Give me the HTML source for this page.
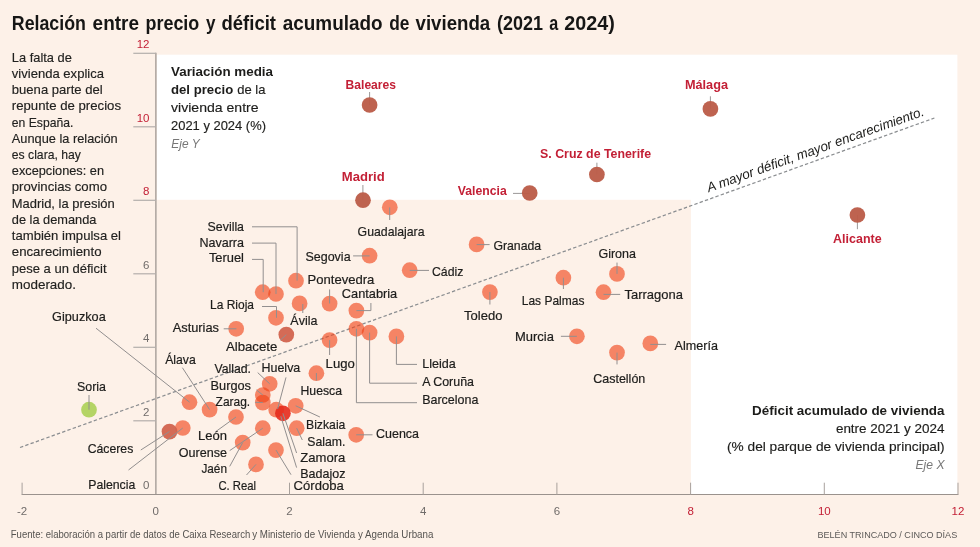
<!DOCTYPE html>
<html lang="es"><head><meta charset="utf-8"><title>Relación entre precio y déficit acumulado de vivienda</title>
<style>
html,body{margin:0;padding:0;background:#fdf1e8;}
svg{display:block;font-family:"Liberation Sans",sans-serif;}
.l{fill:#1d1d1b;font-size:13px;stroke:#1d1d1b;stroke-width:.2px;}
.r{fill:#c32036;font-size:12.4px;font-weight:bold;}
.ln{stroke:#928f8f;stroke-width:1;fill:none;}
.ax{stroke:#9a928d;stroke-width:1.25;fill:none;}
.tk{stroke:#a39c98;stroke-width:.95;fill:none;}
.p{fill:#f03e12;fill-opacity:0.61;}
.d{fill:#bb5d49;fill-opacity:.96;}
</style></head><body>
<svg width="980" height="547" viewBox="0 0 980 547">
<rect x="0" y="0" width="980" height="547" fill="#fdf1e8"/>
<rect x="156.6" y="54.7" width="800.8" height="439.8" fill="#ffffff"/>
<rect x="156.5" y="199.8" width="534.4" height="294.7" fill="#fdf1e8"/>
<text y="30.3" style="font-size:19.8px;font-weight:bold;fill:#161615"><tspan x="11.8" textLength="74.1" lengthAdjust="spacingAndGlyphs">Relación</tspan> <tspan x="92.6" textLength="46.4" lengthAdjust="spacingAndGlyphs">entre</tspan> <tspan x="145.5" textLength="53.8" lengthAdjust="spacingAndGlyphs">precio</tspan> <tspan x="206.0" textLength="9.5" lengthAdjust="spacingAndGlyphs">y</tspan> <tspan x="221.5" textLength="54.5" lengthAdjust="spacingAndGlyphs">déficit</tspan> <tspan x="282.8" textLength="99.7" lengthAdjust="spacingAndGlyphs">acumulado</tspan> <tspan x="389.2" textLength="20.2" lengthAdjust="spacingAndGlyphs">de</tspan> <tspan x="415.5" textLength="74.7" lengthAdjust="spacingAndGlyphs">vivienda</tspan> <tspan x="497.0" textLength="46.0" lengthAdjust="spacingAndGlyphs">(2021</tspan> <tspan x="549.2" textLength="9.0" lengthAdjust="spacingAndGlyphs">a</tspan> <tspan x="564.3" textLength="50.5" lengthAdjust="spacingAndGlyphs">2024)</tspan></text>
<text style="font-size:13.2px;fill:#222220;stroke:#222220;stroke-width:.15px" x="11.8" y="61.6" textLength="60.1" lengthAdjust="spacingAndGlyphs">La falta de</text>
<text style="font-size:13.2px;fill:#222220;stroke:#222220;stroke-width:.15px" x="11.8" y="77.8" textLength="92.2" lengthAdjust="spacingAndGlyphs">vivienda explica</text>
<text style="font-size:13.2px;fill:#222220;stroke:#222220;stroke-width:.15px" x="11.8" y="94.0" textLength="90.9" lengthAdjust="spacingAndGlyphs">buena parte del</text>
<text style="font-size:13.2px;fill:#222220;stroke:#222220;stroke-width:.15px" x="11.8" y="110.3" textLength="109.2" lengthAdjust="spacingAndGlyphs">repunte de precios</text>
<text style="font-size:13.2px;fill:#222220;stroke:#222220;stroke-width:.15px" x="11.8" y="126.5" textLength="61.6" lengthAdjust="spacingAndGlyphs">en España.</text>
<text style="font-size:13.2px;fill:#222220;stroke:#222220;stroke-width:.15px" x="11.8" y="142.7" textLength="105.9" lengthAdjust="spacingAndGlyphs">Aunque la relación</text>
<text style="font-size:13.2px;fill:#222220;stroke:#222220;stroke-width:.15px" x="11.8" y="158.9" textLength="69.1" lengthAdjust="spacingAndGlyphs">es clara, hay</text>
<text style="font-size:13.2px;fill:#222220;stroke:#222220;stroke-width:.15px" x="11.8" y="175.1" textLength="92.2" lengthAdjust="spacingAndGlyphs">excepciones: en</text>
<text style="font-size:13.2px;fill:#222220;stroke:#222220;stroke-width:.15px" x="11.8" y="191.4" textLength="95.2" lengthAdjust="spacingAndGlyphs">provincias como</text>
<text style="font-size:13.2px;fill:#222220;stroke:#222220;stroke-width:.15px" x="11.8" y="207.6" textLength="102.9" lengthAdjust="spacingAndGlyphs">Madrid, la presión</text>
<text style="font-size:13.2px;fill:#222220;stroke:#222220;stroke-width:.15px" x="11.8" y="223.8" textLength="84.6" lengthAdjust="spacingAndGlyphs">de la demanda</text>
<text style="font-size:13.2px;fill:#222220;stroke:#222220;stroke-width:.15px" x="11.8" y="240.0" textLength="109.2" lengthAdjust="spacingAndGlyphs">también impulsa el</text>
<text style="font-size:13.2px;fill:#222220;stroke:#222220;stroke-width:.15px" x="11.8" y="256.2" textLength="89.7" lengthAdjust="spacingAndGlyphs">encarecimiento</text>
<text style="font-size:13.2px;fill:#222220;stroke:#222220;stroke-width:.15px" x="11.8" y="272.5" textLength="94.7" lengthAdjust="spacingAndGlyphs">pese a un déficit</text>
<text style="font-size:13.2px;fill:#222220;stroke:#222220;stroke-width:.15px" x="11.8" y="288.7" textLength="64.2" lengthAdjust="spacingAndGlyphs">moderado.</text>
<text style="font-size:13.6px;font-weight:bold;fill:#1d1d1b" x="171.0" y="75.8" textLength="102.0" lengthAdjust="spacingAndGlyphs">Variación media</text>
<text y="93.8" style="font-size:13.2px;fill:#1d1d1b"><tspan x="171" textLength="62.2" lengthAdjust="spacingAndGlyphs" style="font-weight:bold">del precio</tspan> <tspan x="237.3" textLength="28.2" lengthAdjust="spacingAndGlyphs" style="stroke:#1d1d1b;stroke-width:.15px">de la</tspan></text>
<text style="font-size:13.2px;fill:#1d1d1b;stroke:#1d1d1b;stroke-width:.15px" x="171.0" y="111.8" textLength="87.6" lengthAdjust="spacingAndGlyphs">vivienda entre</text>
<text style="font-size:13.2px;fill:#1d1d1b;stroke:#1d1d1b;stroke-width:.15px" x="171.0" y="129.8" textLength="95.0" lengthAdjust="spacingAndGlyphs">2021 y 2024 (%)</text>
<text style="font-size:13px;font-style:italic;fill:#777" x="171.3" y="147.8" textLength="28.3" lengthAdjust="spacingAndGlyphs">Eje Y</text>
<text style="font-size:13.6px;font-weight:bold;fill:#1d1d1b" x="752.1" y="414.8" textLength="192.4" lengthAdjust="spacingAndGlyphs">Déficit acumulado de vivienda</text>
<text style="font-size:13.2px;fill:#1d1d1b;stroke:#1d1d1b;stroke-width:.15px" x="835.9" y="433.4" textLength="108.6" lengthAdjust="spacingAndGlyphs">entre 2021 y 2024</text>
<text style="font-size:13.2px;fill:#1d1d1b;stroke:#1d1d1b;stroke-width:.15px" x="727.0" y="451.3" textLength="217.5" lengthAdjust="spacingAndGlyphs">(% del parque de vivienda principal)</text>
<text style="font-size:13px;font-style:italic;fill:#777" x="915.5" y="468.8" textLength="29.0" lengthAdjust="spacingAndGlyphs">Eje X</text>
<path class="ax" d="M155.9 52.8V495"/>
<path class="ax" style="stroke-width:1.1" d="M21.8 494.5H958.2"/>
<path class="tk" style="stroke:#b3aeab;stroke-width:1.2" d="M133.3 53.3H156"/>
<path class="tk" style="stroke:#b3aeab;stroke-width:1.2" d="M133.3 126.8H156"/>
<path class="tk" style="stroke:#b3aeab;stroke-width:1.2" d="M133.3 200.3H156"/>
<path class="tk" style="stroke:#b3aeab;stroke-width:1.2" d="M133.3 273.8H156"/>
<path class="tk" style="stroke:#b3aeab;stroke-width:1.2" d="M133.3 347.3H156"/>
<path class="tk" style="stroke:#b3aeab;stroke-width:1.2" d="M133.3 420.8H156"/>
<path class="tk" d="M22.1 482.7V495"/>
<path class="tk" d="M289.5 482.7V495"/>
<path class="tk" d="M423.2 482.7V495"/>
<path class="tk" d="M556.9 482.7V495"/>
<path class="tk" d="M690.6 482.7V495"/>
<path class="tk" d="M824.3 482.7V495"/>
<path class="tk" d="M958.0 482.7V495"/>
<text style="font-size:11.5px;fill:#c32036" x="149.5" text-anchor="end" y="48.1">12</text>
<text style="font-size:11.5px;fill:#c32036" x="149.5" text-anchor="end" y="121.6">10</text>
<text style="font-size:11.5px;fill:#c32036" x="149.5" text-anchor="end" y="195.1">8</text>
<text style="font-size:11.5px;fill:#706c6a" x="149.5" text-anchor="end" y="268.6">6</text>
<text style="font-size:11.5px;fill:#706c6a" x="149.5" text-anchor="end" y="342.1">4</text>
<text style="font-size:11.5px;fill:#706c6a" x="149.5" text-anchor="end" y="415.6">2</text>
<text style="font-size:11.5px;fill:#706c6a" x="149.5" text-anchor="end" y="489.0">0</text>
<text style="font-size:11.5px;fill:#706c6a" x="22.1" text-anchor="middle" y="515.3">-2</text>
<text style="font-size:11.5px;fill:#706c6a" x="155.8" text-anchor="middle" y="515.3">0</text>
<text style="font-size:11.5px;fill:#706c6a" x="289.5" text-anchor="middle" y="515.3">2</text>
<text style="font-size:11.5px;fill:#706c6a" x="423.2" text-anchor="middle" y="515.3">4</text>
<text style="font-size:11.5px;fill:#706c6a" x="556.9" text-anchor="middle" y="515.3">6</text>
<text style="font-size:11.5px;fill:#c32036" x="690.6" text-anchor="middle" y="515.3">8</text>
<text style="font-size:11.5px;fill:#c32036" x="824.3" text-anchor="middle" y="515.3">10</text>
<text style="font-size:11.5px;fill:#c32036" x="958.0" text-anchor="middle" y="515.3">12</text>
<path d="M20 447.5L934.4 118" stroke="#8b8e91" stroke-width="1.25" stroke-dasharray="3.4 2.2" fill="none"/>
<text transform="translate(708.8 192.2) rotate(-19.6)" x="0" y="0" textLength="229.5" lengthAdjust="spacingAndGlyphs" style="font-size:13.4px;font-style:italic;fill:#1d1d1b">A mayor déficit, mayor encarecimiento.</text>
<circle class="p" cx="262.7" cy="292.2" r="7.85"/>
<circle class="p" cx="276.0" cy="294.0" r="7.85"/>
<circle class="p" cx="296.0" cy="280.7" r="7.85"/>
<circle class="p" cx="276.0" cy="317.8" r="7.85"/>
<circle class="p" cx="299.6" cy="303.4" r="7.85"/>
<circle class="p" cx="329.6" cy="303.6" r="7.85"/>
<circle class="p" cx="356.4" cy="310.6" r="7.85"/>
<circle class="p" cx="369.6" cy="255.7" r="7.85"/>
<circle class="p" cx="389.8" cy="207.3" r="7.85"/>
<circle class="p" cx="409.7" cy="270.2" r="7.85"/>
<circle class="p" cx="476.6" cy="244.4" r="7.85"/>
<circle class="p" cx="489.9" cy="292.1" r="7.85"/>
<circle class="p" cx="563.4" cy="277.7" r="7.85"/>
<circle class="p" cx="617.0" cy="273.9" r="7.85"/>
<circle class="p" cx="603.5" cy="292.2" r="7.85"/>
<circle class="p" cx="576.9" cy="336.3" r="7.85"/>
<circle class="p" cx="617.0" cy="352.6" r="7.85"/>
<circle class="p" cx="650.3" cy="343.4" r="7.85"/>
<circle class="p" cx="396.4" cy="336.4" r="7.85"/>
<circle class="p" cx="369.6" cy="332.6" r="7.85"/>
<circle class="p" cx="356.4" cy="328.8" r="7.85"/>
<circle class="p" cx="329.6" cy="340.1" r="7.85"/>
<circle class="p" cx="316.4" cy="373.2" r="7.85"/>
<circle class="p" cx="236.2" cy="328.8" r="7.85"/>
<circle class="p" cx="189.5" cy="402.2" r="7.85"/>
<circle class="p" cx="209.6" cy="409.6" r="7.85"/>
<circle class="p" cx="269.7" cy="383.8" r="7.85"/>
<circle class="p" cx="262.8" cy="395.0" r="7.85"/>
<circle class="p" cx="262.8" cy="402.6" r="7.85"/>
<circle class="p" cx="276.2" cy="409.7" r="7.85"/>
<circle class="p" cx="295.7" cy="405.8" r="7.85"/>
<circle class="p" cx="296.7" cy="428.2" r="7.85"/>
<circle class="p" cx="276.0" cy="450.1" r="7.85"/>
<circle class="p" cx="236.0" cy="417.0" r="7.85"/>
<circle class="p" cx="262.8" cy="428.2" r="7.85"/>
<circle class="p" cx="242.7" cy="442.6" r="7.85"/>
<circle class="p" cx="256.0" cy="464.4" r="7.85"/>
<circle class="p" cx="182.8" cy="428.0" r="7.85"/>
<circle class="p" cx="356.2" cy="434.8" r="7.85"/>
<circle cx="286.3" cy="334.6" r="7.85" fill="#d2634e" fill-opacity=".95"/>
<circle cx="169.5" cy="431.6" r="7.85" fill="#d2634e" fill-opacity=".95"/>
<circle cx="282.9" cy="413.3" r="7.85" fill="#e52a1c" fill-opacity=".9"/>
<circle cx="89" cy="409.7" r="7.85" fill="#b4d465"/>
<path class="ln" style="stroke:#9b9898" d="M369.6 92V105M362.9 185V200M596.9 162.7V174.5M710.4 96.3V108.9M513 193.4H529.7M857.4 215V229.2"/>
<circle class="d" cx="369.6" cy="105.0" r="7.85"/>
<circle class="d" cx="363.0" cy="200.2" r="7.85"/>
<circle class="d" cx="596.9" cy="174.5" r="7.85"/>
<circle class="d" cx="710.4" cy="108.9" r="7.85"/>
<circle class="d" cx="529.7" cy="193.0" r="7.85"/>
<circle class="d" cx="857.4" cy="215.0" r="7.85"/>
<path class="ln" d="M252 226.8H297.1V280.7M252 243.1H276V294M252 259.4H263.2V292.2M262 306.5H276.5V317.8M302.8 304V313M329.6 289.4V303.5M370.9 303V310.6H356.4M353.1 255.9H369.6M389.7 207.4V220M409.7 270.4H429M476.6 244.6H489.6M489.9 292V304.5M563.4 277.7V289M617 262.6V273.9M603.5 294.4H620.2M560.9 336.3H576.9M617 352.6V364.4M650.3 344.4H666.1M396.4 336.4V364.4H417M369.6 332.6V383.2H417M356.4 328.8V402.7H417M329.6 340.1V355M316.4 373V380.5M223.7 328.8H236.4M286.3 334.6L280.3 340.2M96 328.2L189.6 402.2M182.4 367.7L209.6 409.6M89 395V409.7M257.7 372.6L269.7 383.8M256.5 390L262.8 395M255.2 402.4H262.8M286 377.4L277.6 409M295.7 405.8L319.9 417M296.7 428.2L302.3 440M282.9 413.3L296.6 453M280.8 416.3L296.6 467.6M276 450.1L291 474.7M236 417L215.2 432M262.8 428.2L229.7 450.6M242.7 442.6L229.7 466.4M256 464.4L246.5 475M169.5 431.5L140.8 450M182.8 428L128.5 470M356.2 434.8H372.5"/>
<text class="l" x="207.6" y="230.8" textLength="36.4" lengthAdjust="spacingAndGlyphs">Sevilla</text>
<text class="l" x="199.4" y="246.5" textLength="44.6" lengthAdjust="spacingAndGlyphs">Navarra</text>
<text class="l" x="208.9" y="262.1" textLength="35.1" lengthAdjust="spacingAndGlyphs">Teruel</text>
<text class="l" x="210.1" y="309.2" textLength="43.9" lengthAdjust="spacingAndGlyphs">La Rioja</text>
<text class="l" x="290.3" y="324.5" textLength="27.1" lengthAdjust="spacingAndGlyphs">Ávila</text>
<text class="l" x="307.5" y="284.0" textLength="66.9" lengthAdjust="spacingAndGlyphs">Pontevedra</text>
<text class="l" x="341.8" y="297.5" textLength="55.4" lengthAdjust="spacingAndGlyphs">Cantabria</text>
<text class="l" x="305.4" y="260.9" textLength="45.2" lengthAdjust="spacingAndGlyphs">Segovia</text>
<text class="l" x="357.6" y="235.9" textLength="66.9" lengthAdjust="spacingAndGlyphs">Guadalajara</text>
<text class="l" x="432.0" y="275.5" textLength="31.3" lengthAdjust="spacingAndGlyphs">Cádiz</text>
<text class="l" x="493.4" y="250.4" textLength="47.8" lengthAdjust="spacingAndGlyphs">Granada</text>
<text class="l" x="464.0" y="319.5" textLength="38.4" lengthAdjust="spacingAndGlyphs">Toledo</text>
<text class="l" x="521.8" y="304.5" textLength="62.6" lengthAdjust="spacingAndGlyphs">Las Palmas</text>
<text class="l" x="598.4" y="257.9" textLength="37.6" lengthAdjust="spacingAndGlyphs">Girona</text>
<text class="l" x="624.5" y="299.2" textLength="58.4" lengthAdjust="spacingAndGlyphs">Tarragona</text>
<text class="l" x="515.0" y="340.8" textLength="38.9" lengthAdjust="spacingAndGlyphs">Murcia</text>
<text class="l" x="593.2" y="382.5" textLength="52.1" lengthAdjust="spacingAndGlyphs">Castellón</text>
<text class="l" x="674.6" y="349.5" textLength="43.3" lengthAdjust="spacingAndGlyphs">Almería</text>
<text class="l" x="422.2" y="367.9" textLength="33.6" lengthAdjust="spacingAndGlyphs">Lleida</text>
<text class="l" x="422.2" y="385.9" textLength="51.8" lengthAdjust="spacingAndGlyphs">A Coruña</text>
<text class="l" x="422.2" y="404.2" textLength="56.2" lengthAdjust="spacingAndGlyphs">Barcelona</text>
<text class="l" x="325.6" y="367.5" textLength="29.2" lengthAdjust="spacingAndGlyphs">Lugo</text>
<text class="l" x="300.5" y="395.2" textLength="41.5" lengthAdjust="spacingAndGlyphs">Huesca</text>
<text class="l" x="172.7" y="332.1" textLength="46.3" lengthAdjust="spacingAndGlyphs">Asturias</text>
<text class="l" x="225.9" y="350.8" textLength="51.4" lengthAdjust="spacingAndGlyphs">Albacete</text>
<text class="l" x="52.1" y="320.8" textLength="53.6" lengthAdjust="spacingAndGlyphs">Gipuzkoa</text>
<text class="l" x="165.2" y="363.8" textLength="30.6" lengthAdjust="spacingAndGlyphs">Álava</text>
<text class="l" x="77.0" y="390.5" textLength="29.0" lengthAdjust="spacingAndGlyphs">Soria</text>
<text class="l" x="214.4" y="372.5" textLength="36.6" lengthAdjust="spacingAndGlyphs">Vallad.</text>
<text class="l" x="210.6" y="389.5" textLength="40.4" lengthAdjust="spacingAndGlyphs">Burgos</text>
<text class="l" x="215.6" y="405.9" textLength="34.6" lengthAdjust="spacingAndGlyphs">Zarag.</text>
<text class="l" x="261.5" y="372.1" textLength="38.8" lengthAdjust="spacingAndGlyphs">Huelva</text>
<text class="l" x="306.0" y="429.0" textLength="39.4" lengthAdjust="spacingAndGlyphs">Bizkaia</text>
<text class="l" x="307.3" y="445.5" textLength="38.1" lengthAdjust="spacingAndGlyphs">Salam.</text>
<text class="l" x="300.3" y="461.5" textLength="45.1" lengthAdjust="spacingAndGlyphs">Zamora</text>
<text class="l" x="300.3" y="477.5" textLength="45.1" lengthAdjust="spacingAndGlyphs">Badajoz</text>
<text class="l" x="293.6" y="490.0" textLength="50.1" lengthAdjust="spacingAndGlyphs">Córdoba</text>
<text class="l" x="198.0" y="439.5" textLength="29.0" lengthAdjust="spacingAndGlyphs">León</text>
<text class="l" x="178.8" y="457.0" textLength="48.2" lengthAdjust="spacingAndGlyphs">Ourense</text>
<text class="l" x="201.4" y="472.5" textLength="25.6" lengthAdjust="spacingAndGlyphs">Jaén</text>
<text class="l" x="218.4" y="490.0" textLength="37.6" lengthAdjust="spacingAndGlyphs">C. Real</text>
<text class="l" x="87.7" y="452.5" textLength="45.6" lengthAdjust="spacingAndGlyphs">Cáceres</text>
<text class="l" x="88.2" y="488.5" textLength="47.1" lengthAdjust="spacingAndGlyphs">Palencia</text>
<text class="l" x="376.0" y="437.5" textLength="43.0" lengthAdjust="spacingAndGlyphs">Cuenca</text>
<text class="r" x="345.6" y="89.4" textLength="50.4" lengthAdjust="spacingAndGlyphs">Baleares</text>
<text class="r" x="341.8" y="181.4" textLength="42.9" lengthAdjust="spacingAndGlyphs">Madrid</text>
<text class="r" x="540.1" y="157.9" textLength="111.0" lengthAdjust="spacingAndGlyphs">S. Cruz de Tenerife</text>
<text class="r" x="684.9" y="89.0" textLength="43.1" lengthAdjust="spacingAndGlyphs">Málaga</text>
<text class="r" x="457.8" y="195.4" textLength="48.9" lengthAdjust="spacingAndGlyphs">Valencia</text>
<text class="r" x="833.1" y="243.4" textLength="48.5" lengthAdjust="spacingAndGlyphs">Alicante</text>
<text y="538" style="font-size:10.6px;fill:#555350"><tspan x="10.8" textLength="239.4" lengthAdjust="spacingAndGlyphs">Fuente: elaboración a partir de datos de Caixa Research</tspan> <tspan x="252.2" textLength="181.2" lengthAdjust="spacingAndGlyphs">y Ministerio de Vivienda y Agenda Urbana</tspan></text>
<text style="font-size:9.5px;fill:#5c5a58" x="817.5" y="537.8" textLength="139.7" lengthAdjust="spacingAndGlyphs">BELÉN TRINCADO / CINCO DÍAS</text>
</svg></body></html>
